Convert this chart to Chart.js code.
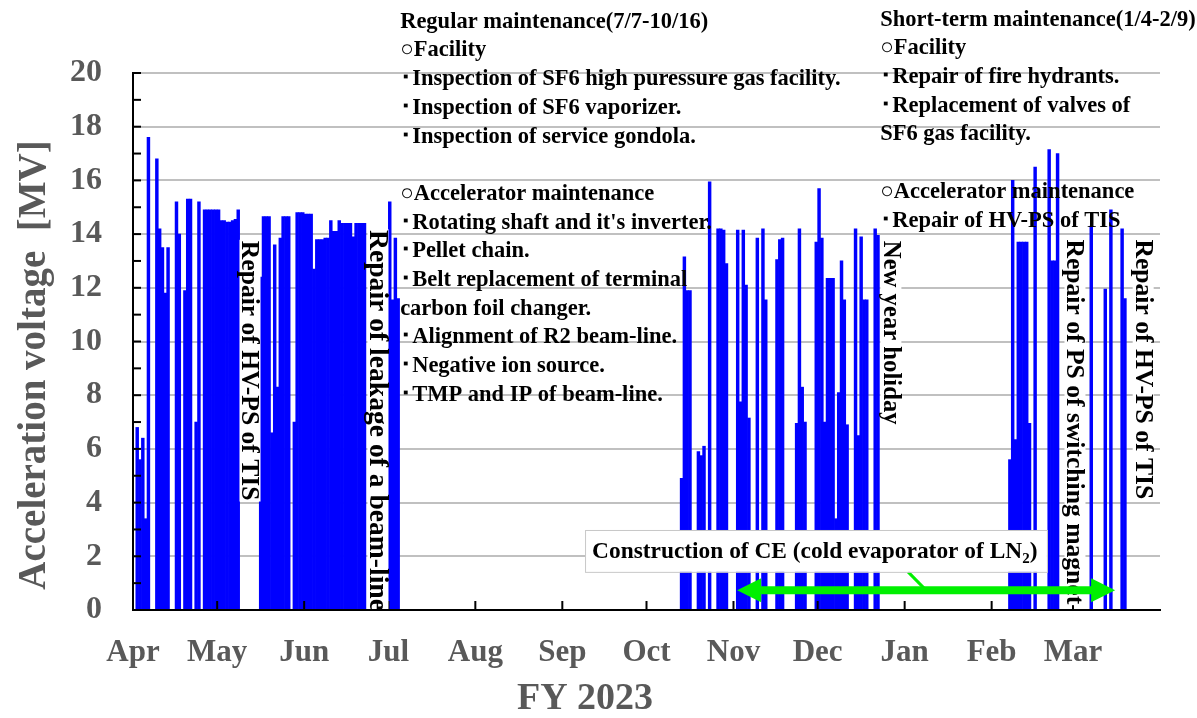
<!DOCTYPE html>
<html lang="en">
<head>
<meta charset="UTF-8">
<title>Acceleration voltage FY 2023</title>
<script src="https://cdn.jsdelivr.net/npm/chart.js"></script>
<style>
  html, body { margin: 0; padding: 0; background: #fff; }
</style>
</head>
<body>
<canvas id="volt-chart" width="1197" height="718"></canvas>
<script>
// FY2023 : 2023/4/1 - 2024/3/31 (Feb has 29 days)
const months = ['Apr', 'May', 'Jun', 'Jul', 'Aug', 'Sep', 'Oct', 'Nov', 'Dec', 'Jan', 'Feb', 'Mar'];
const monthDays = [30, 31, 30, 31, 31, 30, 31, 30, 31, 31, 29, 31];
const yTicks = [0, 2, 4, 6, 8, 10, 12, 14, 16, 18, 20];

// daily acceleration voltage [MV] : [day of month, value]
const apr = [[2, 6.8], [3, 5.6], [4, 6.4], [5, 3.4], [6, 17.6], [9, 16.8], [10, 14.2], [11, 13.5], [12, 11.8], [13, 13.5],
  [16, 15.2], [17, 14.0], [19, 11.9], [20, 15.3], [21, 15.3], [23, 7.0], [24, 15.2],
  [26, 14.9], [27, 14.9], [28, 14.9], [29, 14.9], [30, 14.9]];
const may = [[1, 14.9], [2, 14.5], [3, 14.5], [4, 14.45], [5, 14.45], [6, 14.5], [7, 14.55], [8, 14.9],
  [16, 12.4], [17, 14.65], [18, 14.65], [19, 14.65], [20, 6.6], [21, 13.6], [22, 8.3], [23, 13.85],
  [24, 14.65], [25, 14.65], [26, 14.65], [28, 7.0], [29, 14.8], [30, 14.8], [31, 14.8]];
const jun = [[1, 14.75], [2, 14.75], [3, 14.75], [4, 12.7], [5, 13.8], [6, 13.8], [7, 13.8], [8, 13.85], [9, 13.85],
  [10, 14.5], [11, 14.1], [12, 14.1], [13, 14.5], [14, 14.4], [15, 14.4], [16, 14.4], [17, 14.4], [18, 13.9],
  [19, 14.4], [20, 14.4], [21, 14.4], [22, 14.4]];
const jul = [[1, 15.2], [2, 11.55], [3, 13.85], [4, 11.6]];
const aug = [];
const sep = [];
const oct = [[13, 4.9], [14, 13.15], [15, 11.9], [16, 11.9], [19, 5.9], [20, 5.75], [21, 6.1], [23, 15.95],
  [26, 14.2], [27, 14.2], [28, 14.15], [29, 12.9]];
const nov = [[2, 14.15], [3, 7.75], [4, 14.15], [5, 12.1], [6, 7.15], [9, 13.85], [11, 14.2], [12, 11.55],
  [16, 13.05], [17, 13.8], [18, 13.85], [23, 6.95], [24, 14.2], [25, 8.3], [26, 7.0], [30, 13.7]];
const dec = [[1, 15.7], [2, 13.85], [3, 7.0], [4, 12.35], [5, 12.35], [6, 12.35], [7, 3.4], [8, 8.1], [9, 13.0],
  [10, 11.55], [11, 6.9], [14, 14.2], [15, 6.5], [16, 13.9], [17, 11.55], [18, 11.55], [21, 14.2], [22, 13.95]];
const jan = [];
const feb = [[7, 5.6], [8, 16.0], [9, 6.35], [10, 13.7], [11, 13.7], [12, 13.7], [13, 13.7], [14, 6.95],
  [16, 16.5], [21, 17.15], [22, 13.0], [23, 13.0], [24, 17.0]];
const mar = [[7, 14.3], [12, 11.95], [14, 14.9], [18, 14.2], [19, 11.6]];

const monthData = [apr, may, jun, jul, aug, sep, oct, nov, dec, jan, feb, mar];

// annotations (position in day / MV units)
const regularNote = ['Regular maintenance(7/7-10/16)', '○Facility',
  '･Inspection of SF6 high puressure gas facility.', '･Inspection of SF6 vaporizer.',
  '･Inspection of service gondola.', '', '○Accelerator maintenance',
  '･Rotating shaft and it\'s inverter.', '･Pellet chain.', '･Belt replacement of terminal',
  'carbon foil changer.', '･Alignment of R2 beam-line.', '･Negative ion source.', '･TMP and IP of beam-line.'];
const shortNote = ['Short-term maintenance(1/4-2/9)', '○Facility', '･Repair of fire hydrants.',
  '･Replacement of valves of', 'SF6 gas facility.', '', '○Accelerator maintenance', '･Repair of HV-PS of TIS'];
const stopLabels = [
  {text: 'Repair of HV-PS of TIS', day: 41.7, top: 13.75, size: 25.6},
  {text: 'Repair of leakage of a beam-line', day: 87.3, top: 14.15, size: 27.6},
  {text: 'New year holiday', day: 270.1, top: 13.75, size: 24.7},
  {text: 'Repair of PS of switching magnet', day: 335.7, top: 13.8, size: 25.6},
  {text: 'Repair of HV-PS of TIS', day: 360.0, top: 13.8, size: 25.6}
];
const ceArrow = {from: 215.3, to: 350.0, level: 0.74};

const FONT = '"Liberation Serif", "Times New Roman", serif';
const AXIS_GRAY = '#595959';

// first day of each month, counted from 4/1
const monthStart = [];
monthDays.reduce((acc, n) => { monthStart.push(acc); return acc + n; }, 0);

const points = [];
monthData.forEach((list, m) => {
  list.forEach(([d, v]) => points.push({x: monthStart[m] + d - 0.5, y: v}));
});

const decor = {
  id: 'decor',
  afterDatasetsDraw(chart) {
    const {ctx, scales: {x, y}} = chart;
    const line = (x1, y1, x2, y2) => { ctx.beginPath(); ctx.moveTo(x1, y1); ctx.lineTo(x2, y2); ctx.stroke(); };
    ctx.save();

    // inner tick marks
    ctx.strokeStyle = '#000';
    ctx.lineWidth = 2;
    for (let v = 1; v <= 20; v++) {
      const py = y.getPixelForValue(v);
      line(x.left, py, x.left + 8, py);
    }
    monthStart.slice(1).forEach(d => {
      const px = x.getPixelForValue(d);
      line(px, y.bottom, px, y.bottom - 9);
    });

    // maintenance notes
    ctx.fillStyle = '#000';
    ctx.font = 'bold 22.5px ' + FONT;
    ctx.textBaseline = 'middle';
    ctx.textAlign = 'left';
    const block = (lines, day, top) => {
      const px = x.getPixelForValue(day);
      const py = y.getPixelForValue(top);
      lines.forEach((t, i) => { if (t) ctx.fillText(t, px, py + i * 28.7); });
    };
    block(regularNote, 95.2, 21.9);
    block(shortNote, 266.3, 21.98);

    // vertical labels for stops
    stopLabels.forEach(l => {
      ctx.font = 'bold ' + l.size + 'px ' + FONT;
      const px = x.getPixelForValue(l.day);
      const py = y.getPixelForValue(l.top);
      const w = ctx.measureText(l.text).width;
      ctx.save();
      ctx.translate(px, py);
      ctx.rotate(Math.PI / 2);
      ctx.fillStyle = '#fff';
      ctx.fillRect(-1, -10.5, w + 2, 21);
      ctx.fillStyle = '#000';
      ctx.fillText(l.text, 0, 1);
      ctx.restore();
    });

    // CE construction: box, leader and double arrow
    const green = '#00f000';
    const ay = y.getPixelForValue(ceArrow.level);
    const ax1 = x.getPixelForValue(ceArrow.from);
    const ax2 = x.getPixelForValue(ceArrow.to);
    ctx.strokeStyle = green;
    ctx.lineWidth = 3;
    line(x.getPixelForValue(276.2), y.getPixelForValue(1.42), x.getPixelForValue(282.6), ay);
    ctx.lineWidth = 8;
    line(ax1 + 20, ay, ax2 - 20, ay);
    ctx.fillStyle = green;
    [[ax1, 1], [ax2, -1]].forEach(([tip, dir]) => {
      ctx.beginPath();
      ctx.moveTo(tip, ay);
      ctx.lineTo(tip + dir * 24, ay - 12);
      ctx.lineTo(tip + dir * 24, ay + 12);
      ctx.closePath();
      ctx.fill();
    });

    const bx1 = x.getPixelForValue(161.1), bx2 = x.getPixelForValue(325.7);
    const by1 = y.getPixelForValue(2.98), by2 = y.getPixelForValue(1.42);
    ctx.fillStyle = '#fff';
    ctx.fillRect(bx1, by1, bx2 - bx1, by2 - by1);
    ctx.strokeStyle = '#c8c8c8';
    ctx.lineWidth = 1;
    ctx.strokeRect(bx1 + 0.5, by1 + 0.5, bx2 - bx1, by2 - by1);
    ctx.fillStyle = '#000';
    ctx.font = 'bold 23.4px ' + FONT;
    ctx.textBaseline = 'alphabetic';
    let tx = bx1 + 7;
    const base = by1 + 28;
    const part1 = 'Construction of CE (cold evaporator of LN';
    ctx.fillText(part1, tx, base);
    tx += ctx.measureText(part1).width;
    ctx.font = 'bold 15px ' + FONT;
    ctx.fillText('2', tx, base + 5);
    tx += ctx.measureText('2').width;
    ctx.font = 'bold 23.4px ' + FONT;
    ctx.fillText(')', tx, base);

    // axis titles
    ctx.fillStyle = AXIS_GRAY;
    ctx.font = 'bold 38px ' + FONT;
    ctx.textAlign = 'center';
    ctx.textBaseline = 'middle';
    ctx.fillText('FY 2023', 585, 699);
    ctx.font = 'bold 39px ' + FONT;
    ctx.translate(35, 365);
    ctx.rotate(-Math.PI / 2);
    ctx.fillText('Acceleration voltage  [MV]', 0, 0);
    ctx.restore();
  }
};

new Chart(document.getElementById('volt-chart'), {
  type: 'bar',
  data: {
    datasets: [{
      data: points,
      backgroundColor: '#0000ff',
      borderWidth: 0,
      barPercentage: 1,
      categoryPercentage: 1
    }]
  },
  options: {
    responsive: false,
    animation: false,
    layout: {padding: {left: 0, top: 73, right: 37, bottom: 0}},
    plugins: {legend: {display: false}, tooltip: {enabled: false}},
    scales: {
      x: {
        type: 'linear',
        offset: false,
        min: 0,
        max: 366,
        afterFit: s => { s.height = 108; },
        afterBuildTicks: s => { s.ticks = monthStart.map(v => ({value: v})); },
        grid: {display: false, drawTicks: false},
        border: {color: '#000', width: 2, z: 1},
        ticks: {
          autoSkip: false,
          maxRotation: 0,
          padding: 24,
          color: AXIS_GRAY,
          font: {family: FONT, size: 31, weight: 'bold'},
          callback: v => months[monthStart.indexOf(v)]
        }
      },
      y: {
        min: 0,
        max: 20,
        afterFit: s => { s.width = 133; },
        afterBuildTicks: s => { s.ticks = yTicks.map(v => ({value: v})); },
        grid: {color: '#c0c0c0', lineWidth: 2, drawTicks: false},
        border: {color: '#000', width: 2, z: 1},
        ticks: {
          padding: 31,
          color: AXIS_GRAY,
          font: {family: FONT, size: 32, weight: 'bold'}
        }
      }
    }
  },
  plugins: [decor]
});
</script>
</body>
</html>
